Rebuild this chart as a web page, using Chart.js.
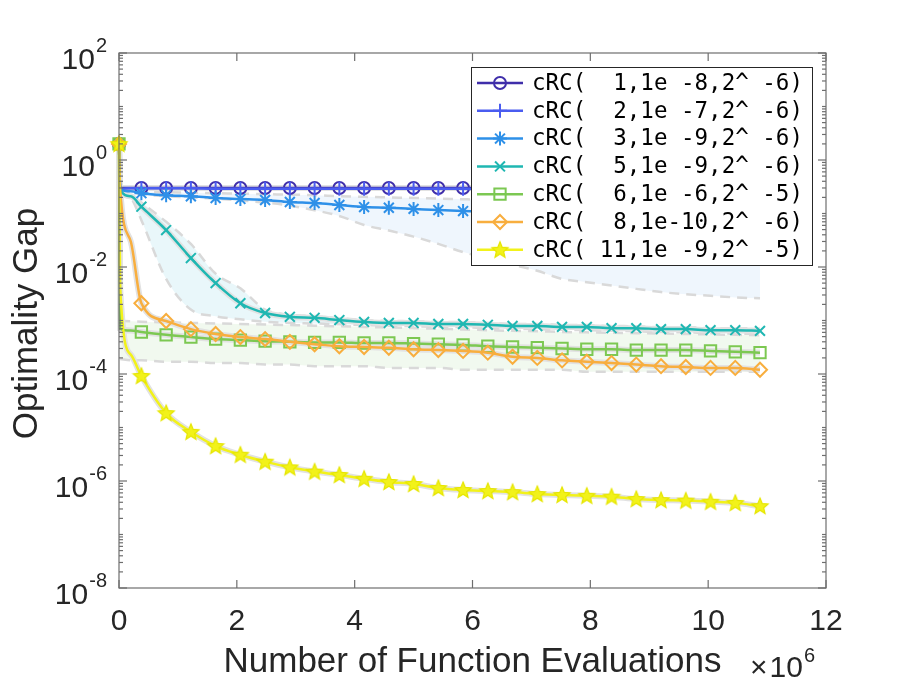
<!DOCTYPE html>
<html>
<head>
<meta charset="utf-8">
<script src="https://cdn.jsdelivr.net/npm/chart.js@4.4.1/dist/chart.umd.min.js"></script>
<style>
  html, body { margin: 0; padding: 0; background: #fff; }
  canvas { display: block; }
</style>
</head>
<body>
<canvas id="gap-chart" width="913" height="686"></canvas>
<script>
// function evaluations (x 1e6) where the runs were sampled
const evals = [0, 0.02, 0.2, 0.38, 0.8, 1.22, 1.64, 2.06, 2.48, 2.9, 3.32, 3.74, 4.16, 4.58, 5.0,
    5.42, 5.84, 6.26, 6.68, 7.1, 7.52, 7.94, 8.36, 8.78, 9.2, 9.62, 10.04, 10.46, 10.88];

const gap1 = [2, 0.30, 0.30, 0.30, 0.30, 0.30, 0.30, 0.30, 0.30, 0.30, 0.30, 0.30, 0.30, 0.30, 0.30,
    0.30, 0.30, 0.30, 0.29, 0.29, 0.29, 0.29, 0.29, 0.29, 0.29, 0.29, 0.29, 0.29, 0.29];
const gap2 = [2, 0.29, 0.295, 0.295, 0.295, 0.295, 0.29, 0.29, 0.29, 0.29, 0.29, 0.29, 0.29, 0.29, 0.29,
    0.29, 0.29, 0.285, 0.285, 0.285, 0.285, 0.28, 0.28, 0.28, 0.28, 0.28, 0.28, 0.28, 0.28];
const gap3 = [2, 0.28, 0.26, 0.24, 0.22, 0.21, 0.195, 0.187, 0.179, 0.164, 0.157, 0.144, 0.132, 0.128, 0.122,
    0.116, 0.111, 0.107, 0.103, 0.099, 0.095, 0.091, 0.088, 0.085, 0.082, 0.079, 0.076, 0.074, 0.071];
const gap3Hi = [null, 0.28, 0.27, 0.26, 0.25, 0.245, 0.24, 0.235, 0.23, 0.225, 0.22, 0.21, 0.205, 0.2, 0.195,
    0.19, 0.185, 0.18, 0.175, 0.17, 0.165, 0.16, 0.155, 0.15, 0.145, 0.14, 0.135, 0.13, 0.125];
const gap3Lo = [null, 0.28, 0.25, 0.23, 0.21, 0.2, 0.19, 0.175, 0.16, 0.14, 0.115, 0.09, 0.061, 0.048, 0.037,
    0.027, 0.019, 0.0145, 0.011, 0.0085, 0.006, 0.0052, 0.0045, 0.0039, 0.0034, 0.0031, 0.0029, 0.0027, 0.0026];
const gap5 = [2, 0.28, 0.21, 0.134, 0.049, 0.0147, 0.005, 0.0021, 0.00138, 0.00117, 0.00112, 0.00102, 0.00094, 0.0009, 0.0009,
    0.00086, 0.00086, 0.00083, 0.00079, 0.00079, 0.00076, 0.00076, 0.00072, 0.00072, 0.00069, 0.00069, 0.00066, 0.00066, 0.00064];
const gap5Hi = [null, 0.28, 0.22, 0.16, 0.07, 0.027, 0.0075, 0.004, 0.0016, 0.00128, 0.0012, 0.0011, 0.00102, 0.00098, 0.00097,
    0.00094, 0.00093, 0.0009, 0.00086, 0.00086, 0.00083, 0.00082, 0.00079, 0.00078, 0.00075, 0.00075, 0.00072, 0.00072, 0.0007];
const gap5Lo = [null, 0.28, 0.2, 0.075, 0.006, 0.0016, 0.0012, 0.00105, 0.00095, 0.0009, 0.00088, 0.00085, 0.00082, 0.0008, 0.00078,
    0.00076, 0.00075, 0.00072, 0.0007, 0.00069, 0.00067, 0.00066, 0.00064, 0.00063, 0.00061, 0.0006, 0.00058, 0.00057, 0.00056];
const gap6 = [2, 0.0007, 0.00065, 0.00061, 0.00054, 0.00049, 0.00045, 0.00043, 0.00041, 0.0004, 0.00039, 0.00039, 0.00038, 0.00038, 0.00037,
    0.00036, 0.00035, 0.00033, 0.00032, 0.00031, 0.0003, 0.00029, 0.00029, 0.00028, 0.00028, 0.00028, 0.00027, 0.00026, 0.00025];
const gap6Hi = [null, 0.00098, 0.00097, 0.00095, 0.00092, 0.0009, 0.00088, 0.00086, 0.00084, 0.00082, 0.0008, 0.00078, 0.00076, 0.00074, 0.00072,
    0.0007, 0.00068, 0.00066, 0.00064, 0.00063, 0.00061, 0.0006, 0.00059, 0.00058, 0.00057, 0.00056, 0.00055, 0.00054, 0.00053];
const gap6Lo = [null, 0.00019, 0.00018, 0.00018, 0.00017, 0.00017, 0.00016, 0.00016, 0.00015, 0.00015, 0.00014, 0.00014, 0.00014, 0.00013, 0.00013,
    0.00013, 0.00012, 0.00012, 0.00012, 0.00012, 0.00012, 0.00011, 0.00011, 0.00011, 0.00011, 0.00011, 0.00011, 0.00011, 0.00011];
const gap8 = [2, 0.28, 0.03, 0.0021, 0.00098, 0.00069, 0.00056, 0.00049, 0.00045, 0.0004, 0.00036, 0.00033, 0.00032, 0.00031, 0.00029,
    0.00028, 0.00027, 0.00025, 0.00021, 0.0002, 0.00018, 0.00017, 0.00016, 0.00015, 0.00014, 0.000135, 0.00013, 0.00013, 0.00012];
const gap11 = [2, 0.004, 2.3e-4, 9.2e-5, 1.86e-5, 8.3e-6, 4.5e-6, 3.1e-6, 2.3e-6, 1.8e-6, 1.5e-6, 1.3e-6, 1.1e-6, 9.6e-7, 8.8e-7,
    7.4e-7, 6.8e-7, 6.5e-7, 6.2e-7, 5.7e-7, 5.5e-7, 5.3e-7, 5.1e-7, 4.6e-7, 4.4e-7, 4.3e-7, 4.1e-7, 3.9e-7, 3.4e-7];

const seriesNames = [
    'cRC(  1,1e -8,2^ -6)',
    'cRC(  2,1e -7,2^ -6)',
    'cRC(  3,1e -9,2^ -6)',
    'cRC(  5,1e -9,2^ -6)',
    'cRC(  6,1e -6,2^ -5)',
    'cRC(  8,1e-10,2^ -6)',
    'cRC( 11,1e -9,2^ -5)'
];
const xTicks = [0, 2, 4, 6, 8, 10, 12];
const yExps = [2, 0, -2, -4, -6, -8];

const colors = ['#3f2eaa', '#4a5cf0', '#2e90e8', '#1fb7b2', '#7cc852', '#f8ae3e', '#f2f21a'];
const grayDash = '#d9d9d9';
const halo = '#e2e2e2';

function pentagram(color) {
    const c = document.createElement('canvas');
    c.width = 20; c.height = 20;
    const g = c.getContext('2d');
    g.beginPath();
    for (let i = 0; i < 10; i++) {
        const r = i % 2 ? 3.8 : 8.5;
        const a = -Math.PI / 2 + i * Math.PI / 5;
        g.lineTo(10 + r * Math.cos(a), 10.5 + r * Math.sin(a));
    }
    g.closePath();
    g.fillStyle = color;
    g.fill();
    g.strokeStyle = '#e6e600';
    g.lineWidth = 1.2;
    g.stroke();
    return c;
}

const markers = [
    { style: 'circle', r: 6 },
    { style: 'cross', r: 7 },
    { style: 'star', r: 7 },
    { style: 'crossRot', r: 7 },
    { style: 'rect', r: 8 },
    { style: 'rectRot', r: 7 },
    { style: pentagram(colors[6]), r: 9 }
];
const means = [gap1, gap2, gap3, gap5, gap6, gap8, gap11];

const pts = arr => evals.map((x, i) => ({ x: x, y: arr[i] }));

function band(hi, lo, fillColor) {
    return [
        { data: pts(hi), borderColor: grayDash, borderWidth: 2.5, borderDash: [10, 7], pointRadius: 0,
          cubicInterpolationMode: 'monotone', order: 30, fill: false },
        { data: pts(lo), borderColor: grayDash, borderWidth: 2.5, borderDash: [10, 7], pointRadius: 0,
          cubicInterpolationMode: 'monotone', order: 30, fill: '-1', backgroundColor: fillColor }
    ];
}

function haloLine(arr) {
    return { data: pts(arr), borderColor: halo, borderWidth: 6, pointRadius: 0,
             cubicInterpolationMode: 'monotone', order: 20, clip: false };
}

const datasets = [
    ...band(gap3Hi, gap3Lo, '#eff6fd'),
    ...band(gap5Hi, gap5Lo, '#e9f7fa'),
    ...band(gap6Hi, gap6Lo, '#f1f9ef'),
    haloLine(gap1), haloLine(gap5), haloLine(gap6), haloLine(gap8), haloLine(gap11)
];

means.forEach((arr, k) => {
    datasets.push({
        label: seriesNames[k],
        data: pts(arr),
        borderColor: colors[k],
        borderWidth: 2.5,
        backgroundColor: colors[k],
        pointStyle: markers[k].style,
        pointRadius: ctx => (ctx.dataIndex === 1 || ctx.dataIndex === 2) ? 0 : markers[k].r,
        pointBorderColor: colors[k],
        pointBackgroundColor: 'rgba(0,0,0,0)',
        pointBorderWidth: 2,
        cubicInterpolationMode: 'monotone',
        order: 7 - k,
        clip: false
    });
});

function seg(ctx, x1, y1, x2, y2) {
    ctx.beginPath();
    ctx.moveTo(x1, y1);
    ctx.lineTo(x2, y2);
    ctx.stroke();
}

function powerLabel(ctx, right, base, exp, baseline) {
    ctx.font = '20px "Liberation Sans"';
    const w2 = ctx.measureText(exp).width;
    ctx.font = '30px "Liberation Sans"';
    const w1 = ctx.measureText('10').width;
    ctx.textAlign = 'left';
    ctx.fillText('10', right - w2 - w1 - 1, baseline);
    ctx.font = '20px "Liberation Sans"';
    ctx.fillText(exp, right - w2, baseline - 17);
}

const decor = {
    id: 'decor',
    afterDraw(chart) {
        const { ctx, chartArea: a, scales: { x, y } } = chart;
        ctx.save();
        ctx.strokeStyle = '#6e6e6e';
        ctx.lineWidth = 1.2;
        ctx.strokeRect(a.left, a.top, a.right - a.left, a.bottom - a.top);

        xTicks.forEach(v => {
            const px = x.getPixelForValue(v);
            seg(ctx, px, a.bottom, px, a.bottom - 8);
            seg(ctx, px, a.top, px, a.top + 8);
        });
        for (let e = -8; e < 2; e++) {
            for (let m = 1; m < 10; m++) {
                const py = y.getPixelForValue(m * Math.pow(10, e));
                const len = (m === 1 && yExps.includes(e)) ? 8 : 4;
                seg(ctx, a.left, py, a.left + len, py);
                seg(ctx, a.right, py, a.right - len, py);
            }
        }
        seg(ctx, a.left, a.top, a.left + 8, a.top);
        seg(ctx, a.right, a.top, a.right - 8, a.top);

        ctx.fillStyle = '#262626';
        ctx.textBaseline = 'alphabetic';
        ctx.font = '30px "Liberation Sans"';
        ctx.textAlign = 'center';
        xTicks.forEach(v => ctx.fillText(String(v), x.getPixelForValue(v), a.bottom + 42));

        yExps.forEach(e => {
            const py = y.getPixelForValue(Math.pow(10, e));
            powerLabel(ctx, a.left - 12, '10', String(e), py + 16);
        });

        // x 10^6 multiplier
        ctx.font = '30px "Liberation Sans"';
        ctx.textAlign = 'left';
        ctx.fillText('\u00d7', 750, 677);
        const wx = ctx.measureText('\u00d7').width;
        const w10 = ctx.measureText('10').width;
        ctx.fillText('10', 752 + wx, 677);
        ctx.font = '20px "Liberation Sans"';
        ctx.fillText('6', 753 + wx + w10, 662);

        ctx.font = '35px "Liberation Sans"';
        ctx.textAlign = 'center';
        ctx.fillText('Number of Function Evaluations', (a.left + a.right) / 2, 672);
        ctx.save();
        ctx.translate(37, (a.top + a.bottom) / 2 + 3);
        ctx.rotate(-Math.PI / 2);
        ctx.fillText('Optimality Gap', 0, 0);
        ctx.restore();

        // legend box
        const lx = 471, ly = 67, lw = 341, lh = 198;
        ctx.fillStyle = '#ffffff';
        ctx.fillRect(lx, ly, lw, lh);
        ctx.strokeStyle = '#262626';
        ctx.lineWidth = 1;
        ctx.strokeRect(lx + 0.5, ly + 0.5, lw, lh);
        ctx.font = '22.5px "DejaVu Sans Mono"';
        ctx.textBaseline = 'middle';
        ctx.textAlign = 'left';
        seriesNames.forEach((name, k) => {
            const cy = ly + 16 + k * 27.8;
            ctx.strokeStyle = colors[k];
            ctx.lineWidth = 2.5;
            seg(ctx, lx + 6, cy, lx + 52, cy);
            ctx.lineWidth = 2;
            ctx.fillStyle = 'rgba(0,0,0,0)';
            Chart.helpers.drawPoint(ctx, { pointStyle: markers[k].style, rotation: 0,
                radius: markers[k].r, borderWidth: 2 }, lx + 29, cy);
            ctx.fillStyle = '#000000';
            ctx.fillText(name, lx + 61, cy + 1);
        });
        ctx.restore();
    }
};

new Chart(document.getElementById('gap-chart'), {
    type: 'line',
    data: { datasets: datasets },
    options: {
        responsive: false,
        animation: false,
        layout: { padding: { left: 119, right: 87, top: 53, bottom: 98 } },
        plugins: { legend: { display: false }, tooltip: { enabled: false } },
        scales: {
            x: { type: 'linear', min: 0, max: 12, display: false },
            y: { type: 'logarithmic', min: 1e-8, max: 100, display: false }
        }
    },
    plugins: [decor]
});
</script>
</body>
</html>
